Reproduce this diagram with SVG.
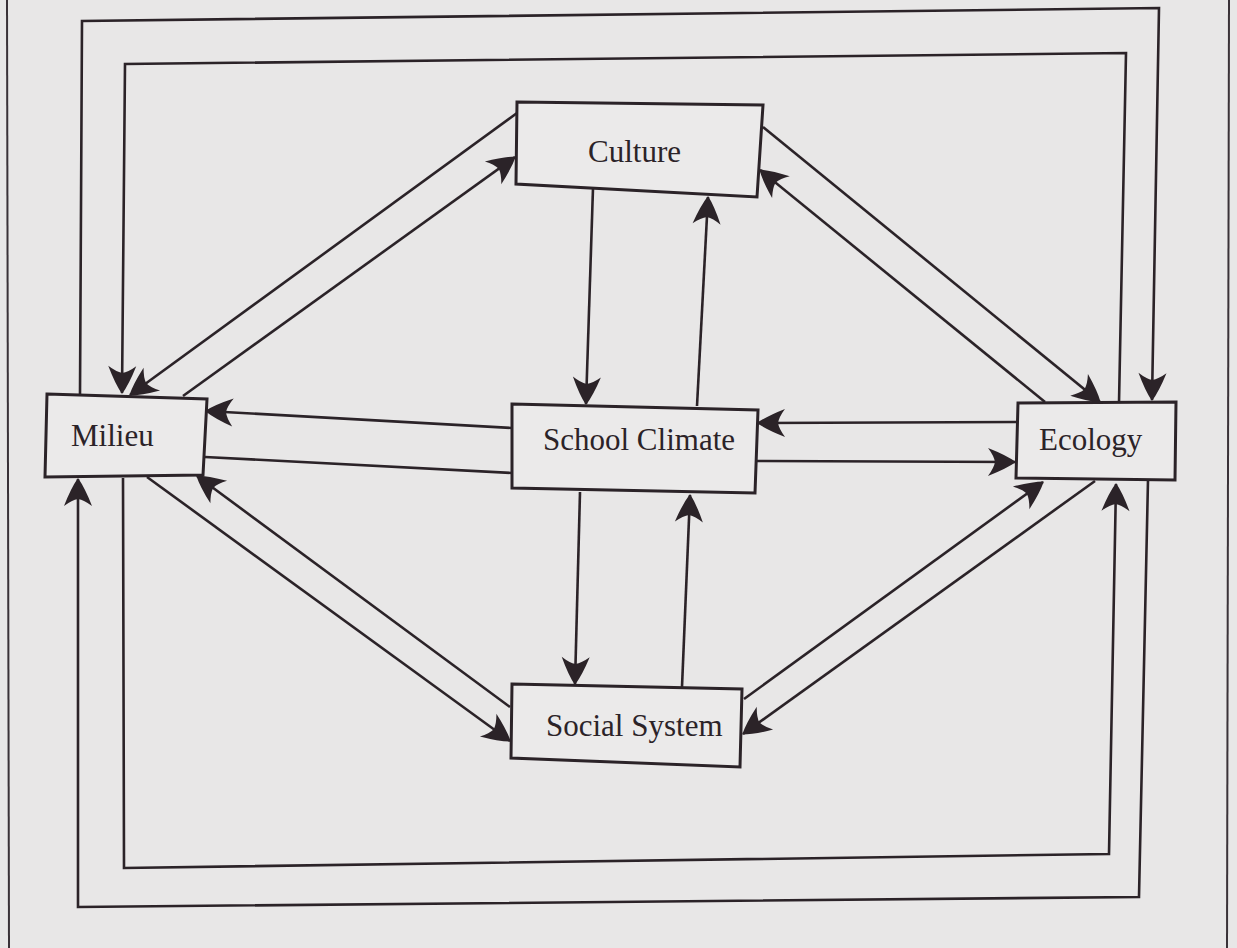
<svg xmlns="http://www.w3.org/2000/svg" width="1237" height="948" viewBox="0 0 1237 948">
<style>
.bg{fill:#e8e7e7}
.box{fill:#ebeaea;stroke:#2b2328;stroke-width:3;stroke-linejoin:miter}
.lbl{font-family:"Liberation Serif","Times New Roman",serif;font-size:31px;fill:#2b2328}
.c{fill:none;stroke:#2b2328;stroke-width:2.6}
.a{marker-end:url(#arr)}
.page{fill:none;stroke:#3a3238;stroke-width:2}
</style>
<defs>
<marker id="arr" markerUnits="userSpaceOnUse" markerWidth="40" markerHeight="40" viewBox="-30 -20 40 40" refX="0" refY="0" orient="auto" overflow="visible">
<path d="M1,0 Q-9,-7 -27,-14 Q-21,-6 -20,0 Q-21,6 -27,14 Q-9,7 1,0 Z" fill="#2b2328"/>
</marker>
</defs>
<rect class="bg" x="0" y="0" width="1237" height="948"/>
<g id="page">
<line class="page" x1="7" y1="0" x2="9" y2="948"/>
<line class="page" x1="1229" y1="0" x2="1227" y2="948"/>
</g>
<g id="connectors">
<polyline class="c a" points="80,395 82,21 1159,8 1152,400"/>
<polyline class="c a" points="1119,403 1126,53 125,64 122,393"/>
<polyline class="c a" points="123,478 124,868 1109,854 1116,484"/>
<polyline class="c a" points="1148,480 1139,897 78,907 78,479"/>
<line class="c a" x1="517" y1="113" x2="130" y2="395"/>
<line class="c a" x1="183" y1="396" x2="515" y2="157"/>
<line class="c a" x1="593" y1="188" x2="586" y2="404"/>
<line class="c a" x1="697" y1="406" x2="708" y2="197"/>
<line class="c a" x1="763" y1="127" x2="1100" y2="402"/>
<line class="c a" x1="1045" y1="402" x2="760" y2="170"/>
<line class="c a" x1="512" y1="428" x2="206" y2="411"/>
<line class="c" x1="205" y1="457" x2="512" y2="473"/>
<line class="c a" x1="1016" y1="422" x2="758" y2="423"/>
<line class="c a" x1="757" y1="461" x2="1015" y2="462"/>
<line class="c a" x1="580" y1="492" x2="575" y2="684"/>
<line class="c a" x1="682" y1="687" x2="690" y2="495"/>
<line class="c a" x1="147" y1="477" x2="510" y2="741"/>
<line class="c a" x1="510" y1="707" x2="197" y2="476"/>
<line class="c a" x1="744" y1="699" x2="1043" y2="482"/>
<line class="c a" x1="1095" y1="481" x2="743" y2="734"/>
</g>
<g id="culture">
<polygon class="box" points="517,102 763,105 757,197 516,184"/>
<text class="lbl" x="588" y="162">Culture</text>
</g>
<g id="milieu">
<polygon class="box" points="47,394 207,399 203,475 45,477"/>
<text class="lbl" x="71" y="446">Milieu</text>
</g>
<g id="school-climate">
<polygon class="box" points="512,404 758,410 755,493 512,488"/>
<text class="lbl" x="543" y="450">School Climate</text>
</g>
<g id="ecology">
<polygon class="box" points="1018,403 1176,402 1175,480 1016,478"/>
<text class="lbl" x="1039" y="450">Ecology</text>
</g>
<g id="social-system">
<polygon class="box" points="512,684 742,689 740,767 511,758"/>
<text class="lbl" x="546" y="736">Social System</text>
</g>
</svg>
